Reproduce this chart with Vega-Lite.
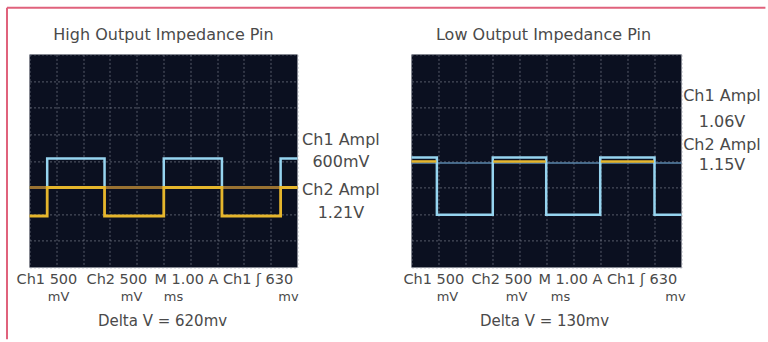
{
  "$schema": "https://vega.github.io/schema/vega-lite/v6.json",
  "background": "white",
  "padding": {"left": 5.5, "top": 6.4, "right": 0, "bottom": 0},
  "datasets": {
    "traces": [
      {"p": "A", "s": "Ch1", "g": 1, "i": 1, "x": 0, "y": 3.0},
      {"p": "A", "s": "Ch1", "g": 1, "i": 2, "x": 0.66, "y": 3.0},
      {"p": "A", "s": "Ch1", "g": 1, "i": 3, "x": 0.66, "y": 4.09},
      {"p": "A", "s": "Ch1", "g": 1, "i": 4, "x": 2.8, "y": 4.09},
      {"p": "A", "s": "Ch1", "g": 1, "i": 5, "x": 2.8, "y": 3.0},
      {"p": "A", "s": "Ch1", "g": 1, "i": 6, "x": 5.01, "y": 3.0},
      {"p": "A", "s": "Ch1", "g": 1, "i": 7, "x": 5.01, "y": 4.09},
      {"p": "A", "s": "Ch1", "g": 1, "i": 8, "x": 7.18, "y": 4.09},
      {"p": "A", "s": "Ch1", "g": 1, "i": 9, "x": 7.18, "y": 3.0},
      {"p": "A", "s": "Ch1", "g": 1, "i": 10, "x": 9.37, "y": 3.0},
      {"p": "A", "s": "Ch1", "g": 1, "i": 11, "x": 9.37, "y": 4.09},
      {"p": "A", "s": "Ch1", "g": 1, "i": 12, "x": 10, "y": 4.09},
      {"p": "A", "s": "Ref", "g": 1, "i": 1, "x": 0, "y": 3.0},
      {"p": "A", "s": "Ref", "g": 1, "i": 2, "x": 10, "y": 3.0},
      {"p": "A", "s": "Ch2", "g": 1, "i": 1, "x": 0, "y": 1.93},
      {"p": "A", "s": "Ch2", "g": 1, "i": 2, "x": 0.66, "y": 1.93},
      {"p": "A", "s": "Ch2", "g": 1, "i": 3, "x": 0.66, "y": 3.0},
      {"p": "A", "s": "Ch2", "g": 1, "i": 4, "x": 2.8, "y": 3.0},
      {"p": "A", "s": "Ch2", "g": 1, "i": 5, "x": 2.8, "y": 1.93},
      {"p": "A", "s": "Ch2", "g": 1, "i": 6, "x": 5.01, "y": 1.93},
      {"p": "A", "s": "Ch2", "g": 1, "i": 7, "x": 5.01, "y": 3.0},
      {"p": "A", "s": "Ch2", "g": 1, "i": 8, "x": 7.18, "y": 3.0},
      {"p": "A", "s": "Ch2", "g": 1, "i": 9, "x": 7.18, "y": 1.93},
      {"p": "A", "s": "Ch2", "g": 1, "i": 10, "x": 9.37, "y": 1.93},
      {"p": "A", "s": "Ch2", "g": 1, "i": 11, "x": 9.37, "y": 3.0},
      {"p": "A", "s": "Ch2", "g": 1, "i": 12, "x": 10, "y": 3.0},
      {"p": "B", "s": "Ch1", "g": 1, "i": 1, "x": 0, "y": 4.13},
      {"p": "B", "s": "Ch1", "g": 1, "i": 2, "x": 0.94, "y": 4.13},
      {"p": "B", "s": "Ch1", "g": 1, "i": 3, "x": 0.94, "y": 1.98},
      {"p": "B", "s": "Ch1", "g": 1, "i": 4, "x": 3.01, "y": 1.98},
      {"p": "B", "s": "Ch1", "g": 1, "i": 5, "x": 3.01, "y": 4.13},
      {"p": "B", "s": "Ch1", "g": 1, "i": 6, "x": 4.99, "y": 4.13},
      {"p": "B", "s": "Ch1", "g": 1, "i": 7, "x": 4.99, "y": 1.98},
      {"p": "B", "s": "Ch1", "g": 1, "i": 8, "x": 6.99, "y": 1.98},
      {"p": "B", "s": "Ch1", "g": 1, "i": 9, "x": 6.99, "y": 4.13},
      {"p": "B", "s": "Ch1", "g": 1, "i": 10, "x": 9.0, "y": 4.13},
      {"p": "B", "s": "Ch1", "g": 1, "i": 11, "x": 9.0, "y": 1.98},
      {"p": "B", "s": "Ch1", "g": 1, "i": 12, "x": 10, "y": 1.98},
      {"p": "B", "s": "Ref", "g": 1, "i": 1, "x": 0, "y": 3.92},
      {"p": "B", "s": "Ref", "g": 1, "i": 2, "x": 10, "y": 3.92},
      {"p": "B", "s": "Ch2", "g": 1, "i": 1, "x": 0, "y": 3.98},
      {"p": "B", "s": "Ch2", "g": 1, "i": 2, "x": 0.92, "y": 3.98},
      {"p": "B", "s": "Ch2", "g": 2, "i": 1, "x": 3.03, "y": 3.98},
      {"p": "B", "s": "Ch2", "g": 2, "i": 2, "x": 4.97, "y": 3.98},
      {"p": "B", "s": "Ch2", "g": 3, "i": 1, "x": 7.01, "y": 3.98},
      {"p": "B", "s": "Ch2", "g": 3, "i": 2, "x": 8.98, "y": 3.98}
    ],
    "labels": [
      {"p": "A", "r": "title", "t": "High Output Impedance Pin", "x": 5.0, "y": 8.71},
      {"p": "A", "r": "row1", "t": "Ch1 500", "x": -0.485, "y": -0.488},
      {"p": "A", "r": "row1", "t": "Ch2 500", "x": 2.127, "y": -0.488},
      {"p": "A", "r": "row1", "t": "M 1.00 A Ch1 ʃ 630", "x": 4.664, "y": -0.488},
      {"p": "A", "r": "row2", "t": "mV", "x": 1.082, "y": -1.127},
      {"p": "A", "r": "row2", "t": "mV", "x": 3.806, "y": -1.127},
      {"p": "A", "r": "row2", "t": "ms", "x": 5.373, "y": -1.127},
      {"p": "A", "r": "row2", "t": "mv", "x": 9.664, "y": -1.127},
      {"p": "A", "r": "delta", "t": "Delta V = 620mv", "x": 4.963, "y": -2.028},
      {"p": "A", "r": "side", "t": "Ch1 Ampl", "x": 11.62, "y": 4.77},
      {"p": "A", "r": "side", "t": "600mV", "x": 11.62, "y": 3.94},
      {"p": "A", "r": "side", "t": "Ch2 Ampl", "x": 11.62, "y": 2.89},
      {"p": "A", "r": "side", "t": "1.21V", "x": 11.62, "y": 2.03},
      {"p": "B", "r": "title", "t": "Low Output Impedance Pin", "x": 4.89, "y": 8.71},
      {"p": "B", "r": "row1", "t": "Ch1 500", "x": -0.296, "y": -0.488},
      {"p": "B", "r": "row1", "t": "Ch2 500", "x": 2.222, "y": -0.488},
      {"p": "B", "r": "row1", "t": "M 1.00 A Ch1 ʃ 630", "x": 4.704, "y": -0.488},
      {"p": "B", "r": "row2", "t": "mV", "x": 1.333, "y": -1.127},
      {"p": "B", "r": "row2", "t": "mV", "x": 3.889, "y": -1.127},
      {"p": "B", "r": "row2", "t": "ms", "x": 5.519, "y": -1.127},
      {"p": "B", "r": "row2", "t": "mv", "x": 9.778, "y": -1.127},
      {"p": "B", "r": "delta", "t": "Delta V = 130mv", "x": 4.926, "y": -2.028},
      {"p": "B", "r": "side", "t": "Ch1 Ampl", "x": 11.5, "y": 6.42},
      {"p": "B", "r": "side", "t": "1.06V", "x": 11.5, "y": 5.45},
      {"p": "B", "r": "side", "t": "Ch2 Ampl", "x": 11.5, "y": 4.58},
      {"p": "B", "r": "side", "t": "1.15V", "x": 11.5, "y": 3.83}
    ],
    "frame": [
      {"x": -0.84, "x2": 27.46, "y": 9.75, "y2": 9.75},
      {"x": -0.84, "x2": -0.84, "y": 9.75, "y2": -2.7}
    ]
  },
  "spacing": 114,
  "bounds": "flush",
  "hconcat": [
    {
      "width": 268,
      "height": 213,
      "encoding": {
        "x": {"field": "x", "type": "quantitative", "scale": {"domain": [0, 10], "nice": false, "zero": false}, "axis": {"values": [0, 1, 2, 3, 4, 5, 6, 7, 8, 9, 10]}},
        "y": {"field": "y", "type": "quantitative", "scale": {"domain": [0, 8], "nice": false, "zero": false}, "axis": {"values": [0, 1, 2, 3, 4, 5, 6, 7, 8]}}
      },
      "layer": [
        {"data": {"name": "frame"}, "mark": {"type": "rule", "color": "#e0627c", "strokeWidth": 2}, "encoding": {"x2": {"field": "x2"}, "y2": {"field": "y2"}}},
        {"data": {"name": "traces"}, "transform": [{"filter": "datum.p == 'A' && datum.s == 'Ch1'"}], "mark": {"type": "line", "color": "#96d4ef", "strokeWidth": 2.5}, "encoding": {"order": {"field": "i"}, "detail": {"field": "g"}}},
        {"data": {"name": "traces"}, "transform": [{"filter": "datum.p == 'A' && datum.s == 'Ref'"}], "mark": {"type": "line", "color": "#9a7232", "strokeWidth": 2.8}, "encoding": {"order": {"field": "i"}, "detail": {"field": "g"}}},
        {"data": {"name": "traces"}, "transform": [{"filter": "datum.p == 'A' && datum.s == 'Ch2'"}], "mark": {"type": "line", "color": "#e6b62c", "strokeWidth": 2.8}, "encoding": {"order": {"field": "i"}, "detail": {"field": "g"}}},
        {"data": {"name": "labels"}, "transform": [{"filter": "datum.p == 'A' && datum.r == 'title'"}], "mark": {"type": "text", "align": "center", "fontSize": 16}, "encoding": {"text": {"field": "t"}}},
        {"data": {"name": "labels"}, "transform": [{"filter": "datum.p == 'A' && datum.r == 'row1'"}], "mark": {"type": "text", "align": "left", "fontSize": 14.5}, "encoding": {"text": {"field": "t"}}},
        {"data": {"name": "labels"}, "transform": [{"filter": "datum.p == 'A' && datum.r == 'row2'"}], "mark": {"type": "text", "align": "center", "fontSize": 13}, "encoding": {"text": {"field": "t"}}},
        {"data": {"name": "labels"}, "transform": [{"filter": "datum.p == 'A' && datum.r == 'delta'"}], "mark": {"type": "text", "align": "center", "fontSize": 15}, "encoding": {"text": {"field": "t"}}},
        {"data": {"name": "labels"}, "transform": [{"filter": "datum.p == 'A' && datum.r == 'side'"}], "mark": {"type": "text", "align": "center", "fontSize": 16}, "encoding": {"text": {"field": "t"}}}
      ]
    },
    {
      "width": 270,
      "height": 213,
      "encoding": {
        "x": {"field": "x", "type": "quantitative", "scale": {"domain": [0, 10], "nice": false, "zero": false}, "axis": {"values": [0, 1, 2, 3, 4, 5, 6, 7, 8, 9, 10]}},
        "y": {"field": "y", "type": "quantitative", "scale": {"domain": [0, 8], "nice": false, "zero": false}, "axis": {"values": [0, 1, 2, 3, 4, 5, 6, 7, 8]}}
      },
      "layer": [
        {"data": {"name": "traces"}, "transform": [{"filter": "datum.p == 'B' && datum.s == 'Ref'"}], "mark": {"type": "line", "color": "#5a86ab", "strokeWidth": 1.5}, "encoding": {"order": {"field": "i"}, "detail": {"field": "g"}}},
        {"data": {"name": "traces"}, "transform": [{"filter": "datum.p == 'B' && datum.s == 'Ch1'"}], "mark": {"type": "line", "color": "#96d4ef", "strokeWidth": 2.5}, "encoding": {"order": {"field": "i"}, "detail": {"field": "g"}}},
        {"data": {"name": "traces"}, "transform": [{"filter": "datum.p == 'B' && datum.s == 'Ch2'"}], "mark": {"type": "line", "color": "#e6b62c", "strokeWidth": 2.5}, "encoding": {"order": {"field": "i"}, "detail": {"field": "g"}}},
        {"data": {"name": "labels"}, "transform": [{"filter": "datum.p == 'B' && datum.r == 'title'"}], "mark": {"type": "text", "align": "center", "fontSize": 16}, "encoding": {"text": {"field": "t"}}},
        {"data": {"name": "labels"}, "transform": [{"filter": "datum.p == 'B' && datum.r == 'row1'"}], "mark": {"type": "text", "align": "left", "fontSize": 14.5}, "encoding": {"text": {"field": "t"}}},
        {"data": {"name": "labels"}, "transform": [{"filter": "datum.p == 'B' && datum.r == 'row2'"}], "mark": {"type": "text", "align": "center", "fontSize": 13}, "encoding": {"text": {"field": "t"}}},
        {"data": {"name": "labels"}, "transform": [{"filter": "datum.p == 'B' && datum.r == 'delta'"}], "mark": {"type": "text", "align": "center", "fontSize": 15}, "encoding": {"text": {"field": "t"}}},
        {"data": {"name": "labels"}, "transform": [{"filter": "datum.p == 'B' && datum.r == 'side'"}], "mark": {"type": "text", "align": "center", "fontSize": 16}, "encoding": {"text": {"field": "t"}}}
      ]
    }
  ],
  "config": {
    "view": {"fill": "#0b1020", "stroke": null},
    "axis": {"domain": false, "ticks": false, "labels": false, "title": null, "grid": true, "gridColor": "#8a8f9c", "gridOpacity": 0.6, "gridDash": [2, 2], "gridWidth": 1},
    "text": {"font": "DejaVu Sans", "color": "#4a4a4a", "baseline": "middle"}
  }
}
